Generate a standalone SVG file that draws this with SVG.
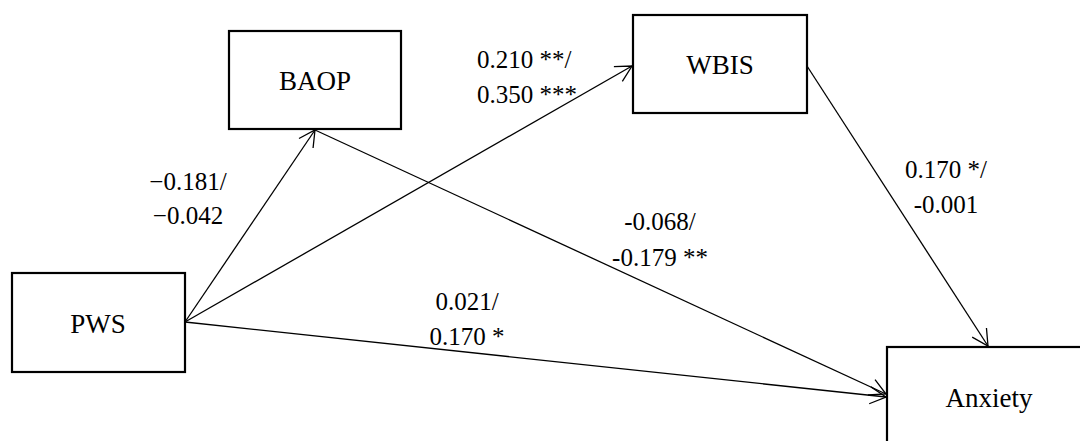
<svg xmlns="http://www.w3.org/2000/svg" width="1080" height="441" viewBox="0 0 1080 441">
  <style>
    .box { fill: #ffffff; stroke: #000000; stroke-width: 2.2; }
    .node-label { font-family: "Liberation Serif", "Times New Roman", serif; font-size: 27px; fill: #000000; text-anchor: middle; }
    .edge { fill: none; stroke: #000000; stroke-width: 1.3; marker-end: url(#open-arrow); }
    .coef { font-family: "Liberation Serif", "Times New Roman", serif; font-size: 25px; fill: #000000; }
  </style>
  <defs>
    <!-- open V arrowhead shared by every path -->
    <marker id="open-arrow" markerUnits="userSpaceOnUse" markerWidth="22" markerHeight="20" refX="17" refY="9.5" orient="auto" overflow="visible">
      <path d="M1,1 L17,9.5 L1,18" fill="none" stroke="#000000" stroke-width="1.3"/>
    </marker>
  </defs>

  <rect width="1080" height="441" fill="#ffffff"/>

  <!-- connectors -->
  <g id="connectors">
    <line class="edge" x1="185" y1="322" x2="315" y2="130"/>
    <line class="edge" x1="185" y1="322" x2="632" y2="66"/>
    <line class="edge" x1="185" y1="322" x2="886" y2="397"/>
    <line class="edge" x1="315" y1="130" x2="886" y2="394"/>
    <line class="edge" x1="807" y1="66" x2="988" y2="346"/>
  </g>

  <!-- path coefficients -->
  <g id="coefficients" class="coef">
    <text x="188" y="190" text-anchor="middle">−0.181/</text>
    <text x="188" y="224" text-anchor="middle">−0.042</text>
    <text x="477" y="68">0.210 **/</text>
    <text x="477" y="103">0.350 ***</text>
    <text x="946" y="178" text-anchor="middle">0.170 */</text>
    <text x="946" y="213" text-anchor="middle">-0.001</text>
    <text x="660" y="230" text-anchor="middle">-0.068/</text>
    <text x="660" y="266" text-anchor="middle">-0.179 **</text>
    <text x="467" y="310" text-anchor="middle">0.021/</text>
    <text x="467" y="345" text-anchor="middle">0.170 *</text>
  </g>

  <!-- nodes -->
  <g id="node-pws">
    <rect class="box" x="12" y="273" width="173" height="99"/>
    <text class="node-label" x="98" y="333">PWS</text>
  </g>
  <g id="node-baop">
    <rect class="box" x="229" y="31" width="172" height="98"/>
    <text class="node-label" x="315" y="90">BAOP</text>
  </g>
  <g id="node-wbis">
    <rect class="box" x="633" y="15" width="174" height="98"/>
    <text class="node-label" x="720" y="74">WBIS</text>
  </g>
  <g id="node-anxiety">
    <rect class="box" x="887" y="347" width="204" height="100"/>
    <text class="node-label" x="989" y="407">Anxiety</text>
  </g>
</svg>
